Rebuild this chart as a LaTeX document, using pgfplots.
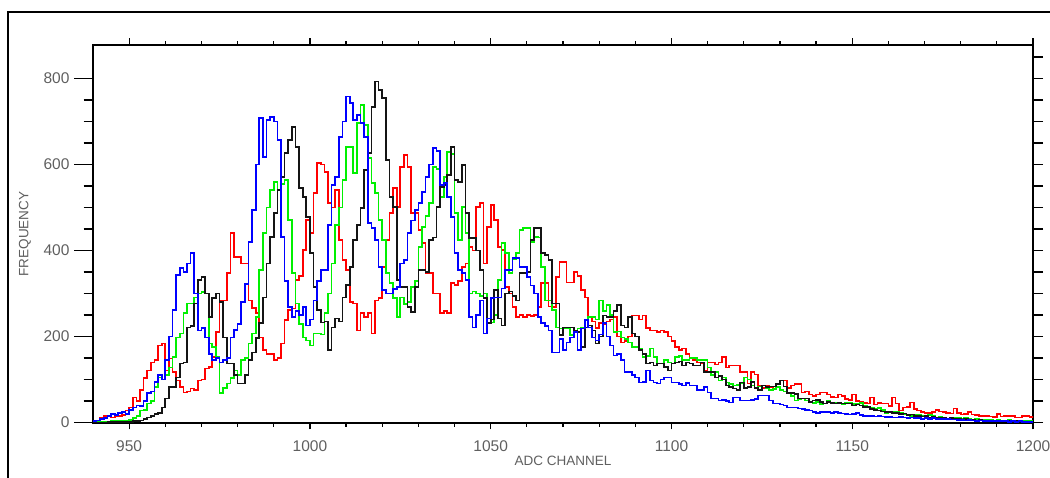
\documentclass[border=0pt]{standalone}
\usepackage{pgfplots}
\pgfplotsset{compat=1.18}
\usepackage{pgfplotstable}
\usepackage{fontspec}
\setmainfont{Liberation Sans}
\definecolor{txtgray}{RGB}{95,95,95}
\definecolor{cblue}{RGB}{0,0,255}
\definecolor{cgreen}{RGB}{0,240,0}
\definecolor{cred}{RGB}{255,0,0}
\definecolor{cblack}{RGB}{20,20,20}

\pgfplotstableread{
x b g k r
940 3 1 0 5
941 5 1 0 5
942 8 2 0 10
943 10 2 0 16
944 15 2 1 16
945 20 3 1 12
946 18 3 1 16
947 22 4 1 16
948 25 4 2 18
949 20 5 2 28
950 30 6 2 35
951 35 10 3 58
952 40 15 4 50
953 38 28 5 75
954 50 30 8 103
955 68 44 12 121
956 72 50 15 140
957 95 82 20 145
958 110 105 23 179
959 100 100 35 184
960 145 110 56 121
961 200 128 82 149
962 261 152 82 117
963 343 198 105 98
964 360 207 137 82
965 350 254 140 70
966 370 277 221 72
967 394 277 225 79
968 300 291 277 75
969 214 300 331 98
970 220 303 338 100
971 198 300 300 126
972 160 184 245 130
973 145 175 289 152
974 150 152 300 210
975 140 68 280 284
976 145 80 198 284
977 150 91 137 347
978 198 103 137 440
979 215 121 110 385
980 230 110 91 385
981 280 145 91 370
982 323 150 110 370
983 420 184 145 284
984 494 207 163 266
985 600 245 196 254
986 708 354 231 198
987 618 440 291 168
988 704 500 370 160
989 711 540 431 160
990 700 560 487 145
991 657 540 540 150
992 431 555 571 184
993 330 564 627 238
994 268 471 657 261
995 245 347 688 265
996 260 277 640 331
997 250 230 545 340
998 268 198 524 401
999 226 191 478 471
1000 240 179 394 440
1001 284 207 315 534
1002 330 207 261 604
1003 354 205 233 600
1004 354 254 235 583
1005 460 300 168 510
1006 552 370 221 500
1007 571 459 242 541
1008 664 500 235 424
1009 700 564 291 378
1010 758 641 320 354
1011 743 641 361 280
1012 704 580 424 277
1013 716 697 460 214
1014 697 739 499 254
1015 664 692 587 245
1016 464 615 627 254
1017 452 557 734 207
1018 424 534 793 284
1019 361 471 774 290
1020 308 424 755 361
1021 300 347 611 424
1022 300 324 524 487
1023 310 290 501 545
1024 315 245 331 501
1025 370 291 315 594
1026 378 275 315 622
1027 440 280 268 594
1028 470 315 257 487
1029 494 330 315 487
1030 510 408 354 448
1031 536 455 354 417
1032 571 480 350 347
1033 600 510 424 347
1034 638 594 430 300
1035 632 590 501 300
1036 552 524 548 254
1037 557 571 552 260
1038 524 629 575 254
1039 478 625 641 324
1040 394 487 564 320
1041 354 424 560 330
1042 347 501 599 361
1043 331 440 487 370
1044 245 300 429 408
1045 221 305 429 400
1046 250 300 400 501
1047 284 295 354 510
1048 207 300 289 370
1049 242 233 231 455
1050 289 233 240 506
1051 291 250 308 471
1052 291 331 242 408
1053 312 417 226 401
1054 354 394 300 315
1055 354 347 305 300
1056 382 380 295 268
1057 382 394 284 245
1058 361 448 347 250
1059 361 452 347 245
1060 338 452 350 250
1061 319 420 424 248
1062 300 431 452 250
1063 245 430 452 268
1064 231 361 394 324
1065 225 284 390 324
1066 214 284 378 270
1067 163 261 277 268
1068 163 221 277 338
1069 195 219 203 373
1070 168 219 221 373
1071 186 219 221 326
1072 198 203 221 326
1073 210 210 214 350
1074 168 219 210 340
1075 219 220 175 308
1076 238 238 221 291
1077 221 245 226 245
1078 198 245 214 235
1079 191 240 184 220
1080 205 284 200 231
1081 231 260 249 228
1082 200 273 245 235
1083 179 250 245 240
1084 156 210 260 245
1085 160 212 273 200
1086 145 198 226 186
1087 117 195 221 190
1088 117 186 245 200
1089 110 175 207 249
1090 105 175 200 249
1091 93 172 168 240
1092 95 152 160 249
1093 121 155 137 220
1094 98 172 140 214
1095 93 152 133 214
1096 91 137 137 210
1097 100 137 137 214
1098 105 145 130 210
1099 105 140 121 200
1100 93 137 137 190
1101 93 152 140 175
1102 90 155 142 168
1103 86 145 133 172
1104 92 145 140 160
1105 86 150 137 150
1106 86 150 133 145
1107 75 145 133 140
1108 75 145 140 137
1109 82 145 117 121
1110 70 128 117 140
1111 56 110 117 140
1112 56 117 105 135
1113 51 98 108 140
1114 52 105 100 152
1115 50 93 86 128
1116 47 90 82 133
1117 58 86 79 133
1118 58 88 76 133
1119 51 92 93 117
1120 51 105 80 117
1121 51 100 82 91
1122 52 86 95 117
1123 54 79 80 112
1124 63 84 76 86
1125 63 86 86 80
1126 63 79 82 86
1127 51 76 84 82
1128 44 78 84 84
1129 44 82 90 90
1130 42 76 98 98
1131 40 72 84 98
1132 35 68 68 80
1133 35 62 68 86
1134 35 51 66 90
1135 33 55 56 90
1136 32 56 56 70
1137 30 51 56 72
1138 28 48 48 65
1139 25 46 51 62
1140 22 48 53 65
1141 24 43 48 70
1142 25 44 44 70
1143 25 51 48 65
1144 23 46 46 60
1145 24 46 44 58
1146 22 46 46 65
1147 21 43 44 62
1148 20 45 44 55
1149 19 46 44 52
1150 20 43 40 65
1151 22 44 42 50
1152 18 46 40 48
1153 16 38 37 46
1154 16 35 36 44
1155 15 35 32 58
1156 14 33 30 42
1157 16 34 28 46
1158 14 30 26 44
1159 13 23 25 44
1160 13 25 24 38
1161 12 24 22 58
1162 12 26 23 44
1163 13 22 20 28
1164 12 20 21 35
1165 11 18 18 37
1166 12 16 19 47
1167 10 18 16 32
1168 11 17 15 28
1169 9 16 14 25
1170 10 15 15 22
1171 9 17 12 22
1172 10 16 13 24
1173 8 12 11 30
1174 9 13 12 26
1175 8 11 10 24
1176 8 9 9 22
1177 7 10 10 21
1178 7 11 8 33
1179 6 10 9 22
1180 6 9 7 19
1181 5 10 8 20
1182 6 8 6 24
1183 5 7 7 19
1184 4 8 5 18
1185 5 7 6 16
1186 4 6 5 16
1187 4 7 4 16
1188 3 6 5 14
1189 4 5 4 13
1190 3 6 3 20
1191 3 5 4 14
1192 4 5 3 16
1193 2 6 3 15
1194 3 4 2 15
1195 2 5 3 12
1196 3 4 2 12
1197 2 5 2 15
1198 2 4 2 16
1199 2 4 1 13
1200 2 4 1 12
}\datatable

\pgfplotsset{
  base/.style={
    at={(93pt,55pt)}, anchor=south west,
    scale only axis, width=940pt, height=378pt,
    xmin=940, xmax=1200, ymin=-1, ymax=878,
    tick align=outside,
    tick style={black, line width=1.2pt},
    /pgf/number format/assume math mode=true,
    /pgf/number format/set thousands separator={},
    ticklabel style={font=\fontsize{15.5}{16}\selectfont, text=txtgray},
    label style={font=\fontsize{13.5}{15}\selectfont, text=txtgray},
  },
  hist/.style={const plot mark left, line width=1.7pt, mark=none},
}

\begin{document}
\begin{tikzpicture}
\useasboundingbox (0,0) rectangle (1050pt,478pt);
\draw[line width=1.3pt, black] (8pt,-20pt) -- (8pt,466pt) -- (1070pt,466pt);

% data axis with x ticks (top and bottom) and x labels
\begin{axis}[base,
  axis line style={line width=1.2pt, black},
  xtick={950,1000,...,1200}, minor x tick num=4,
  ytick=\empty,
  major tick length=6.5pt, minor tick length=3.8pt,
  xticklabel style={yshift=-8pt},
  xlabel={ADC CHANNEL},
  xlabel style={at={(axis description cs:0.5,-0.1005)}, anchor=center},
  clip=true,
]
\addplot[hist, cred] table[x=x, y=r] {\datatable};
\addplot[hist, cgreen] table[x=x, y=g] {\datatable};
\addplot[hist, cblack] table[x=x, y=k] {\datatable};
\addplot[hist, cblue] table[x=x, y=b] {\datatable};
\end{axis}

% left y ticks with labels
\begin{axis}[base,
  axis line style={draw=none},
  xtick=\empty,
  ytick={0,200,...,800}, minor y tick num=3,
  ytick pos=left,
  major tick length=19pt, minor tick length=9.3pt,
  yticklabel style={xshift=-1pt},
  ylabel={FREQUENCY},
  ylabel style={at={(axis description cs:-0.0723,0.5)}, anchor=center},
]
\end{axis}

% right y ticks every 50
\begin{axis}[base,
  axis line style={draw=none},
  xtick=\empty,
  ytick={0,50,...,850},
  ytick pos=right,
  yticklabels={},
  major tick length=10pt,
]
\end{axis}
\end{tikzpicture}
\end{document}
